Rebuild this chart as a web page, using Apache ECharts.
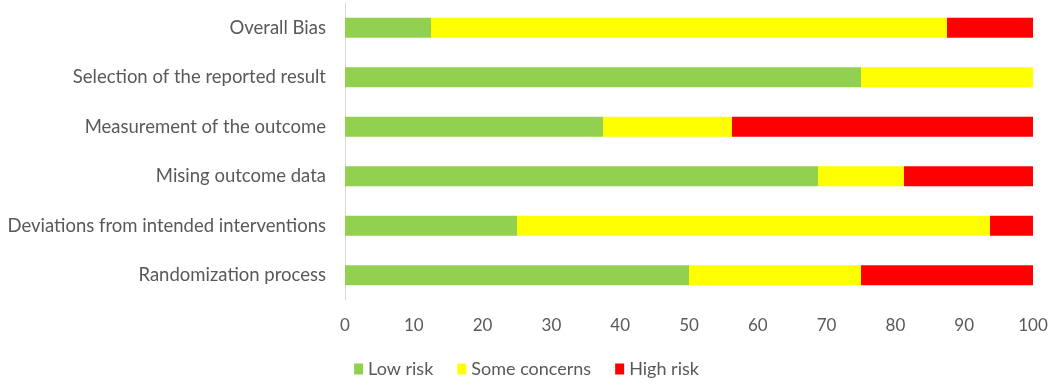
<!DOCTYPE html>
<html>
<head>
<meta charset="utf-8">
<script src="https://cdn.jsdelivr.net/npm/echarts@6/dist/echarts.min.js"></script>
<style>html,body{margin:0;padding:0;background:#fff;}#c{width:1053px;height:385px;}</style>
</head>
<body>
<div id="c"></div>
<script>
const categories = ["Overall Bias","Selection of the reported result","Measurement of the outcome","Mising outcome data","Deviations from intended interventions","Randomization process"];
const lowRisk = [12.5, 75, 37.5, 68.75, 25, 50];
const someConcerns = [75, 25, 18.75, 12.5, 68.75, 25];
const highRisk = [12.5, 0, 43.75, 18.75, 6.25, 25];
const seriesNames = ["Low risk","Some concerns","High risk"];
const colors = ["#92D050","#FFFF00","#FF0000"];

const font = "Lato, 'Open Sans', sans-serif";
const chart = echarts.init(document.getElementById('c'), null, {renderer:'canvas'});
const mk = (name, data, color) => ({
  name, type:'bar', stack:'total', data, barWidth:20,
  itemStyle:{color}, emphasis:{disabled:true}, animation:false
});
chart.setOption({
  animation:false,
  textStyle:{fontFamily:font},
  grid:{left:345, right:20, top:3, height:297, containLabel:false},
  legend:{
    bottom:2, left:'center', itemWidth:9, itemHeight:11, itemGap:24,
    icon:'rect',
    textStyle:{color:'#595959', fontSize:18, fontFamily:font},
    data:seriesNames
  },
  xAxis:{
    type:'value', min:0, max:100, interval:10,
    axisLine:{show:false}, axisTick:{show:false}, splitLine:{show:false},
    axisLabel:{color:'#595959', fontSize:17, margin:17, fontFamily:font}
  },
  yAxis:{
    type:'category', data:categories, inverse:true,
    axisLine:{show:true, lineStyle:{color:'#D9D9D9', width:1}},
    axisTick:{show:false},
    axisLabel:{color:'#595959', fontSize:18.5, margin:19, fontFamily:font}
  },
  series:[
    mk(seriesNames[0], lowRisk, colors[0]),
    mk(seriesNames[1], someConcerns, colors[1]),
    mk(seriesNames[2], highRisk, colors[2])
  ]
});
</script>
</body>
</html>
